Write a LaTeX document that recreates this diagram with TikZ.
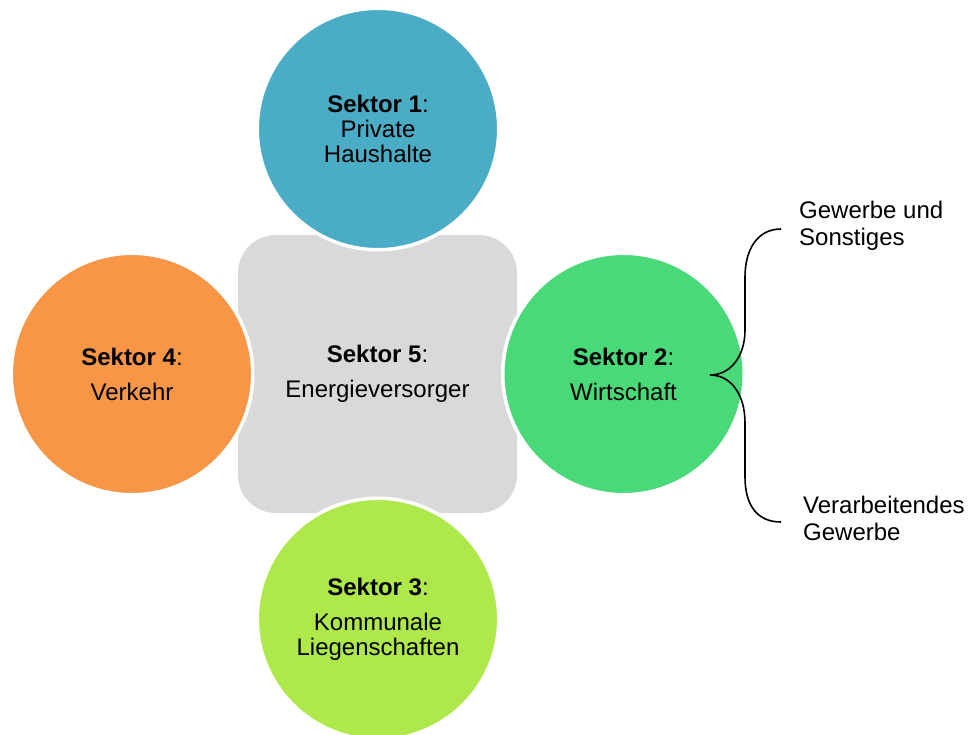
\documentclass[tikz,border=0pt]{standalone}
\usepackage{fontspec}
\setmainfont{Liberation Sans}
\definecolor{teal1}{HTML}{4BACC6}
\definecolor{green2}{HTML}{4AD978}
\definecolor{lime3}{HTML}{AEE84A}
\definecolor{orange4}{HTML}{F79646}
\definecolor{gray5}{HTML}{D9D9D9}
\tikzset{
  sektor/.style={circle, minimum size=241.5pt, inner sep=0pt, draw=white, line width=3.5pt, align=center, font=\fontsize{24}{25}\selectfont, text=black},
  center5/.style={rectangle, minimum width=279pt, minimum height=278pt, rounded corners=38pt, fill=gray5, align=center, font=\fontsize{24}{25}\selectfont},
  lbl/.style={align=left, inner sep=0pt, font=\fontsize{24}{27}\selectfont},
  bracestyle/.style={draw=black, line width=1.6pt}
}
\begin{document}
\begin{tikzpicture}[x=1pt,y=-1pt]
\useasboundingbox (0,0) rectangle (974,734);
\clip (0,0) rectangle (974,734);
\node[center5] (s5) at (377.5,374) {\textbf{Sektor 5}:\\[10pt]Energieversorger};
\node[sektor, fill=teal1] (s1) at (378,129) {\textbf{Sektor 1}:\\Private\\Haushalte};
\node[sektor, fill=green2] (s2) at (623.5,374) {\textbf{Sektor 2}:\\[10pt]Wirtschaft};
\node[sektor, fill=lime3] (s3) at (378,619) {\textbf{Sektor 3}:\\[10pt]Kommunale\\Liegenschaften};
\node[sektor, fill=orange4] (s4) at (132,374) {\textbf{Sektor 4}:\\[10pt]Verkehr};
\coordinate (tip) at (710,375);
\coordinate (btop) at (781,229);
\coordinate (bbot) at (781,522);
\draw[bracestyle] (btop) .. controls (757,229) and (745,250) .. (745,277)
  -- (745,330) .. controls (745,357) and (730,375) .. (tip)
  .. controls (730,375) and (745,393) .. (745,423)
  -- (745,477) .. controls (745,505) and (757,522) .. (bbot);
\node[lbl, anchor=base west] (g1) at (799,245) {Gewerbe und\\Sonstiges};
\node[lbl, anchor=base west] (g2) at (803,540) {Verarbeitendes\\Gewerbe};
\end{tikzpicture}
\end{document}
